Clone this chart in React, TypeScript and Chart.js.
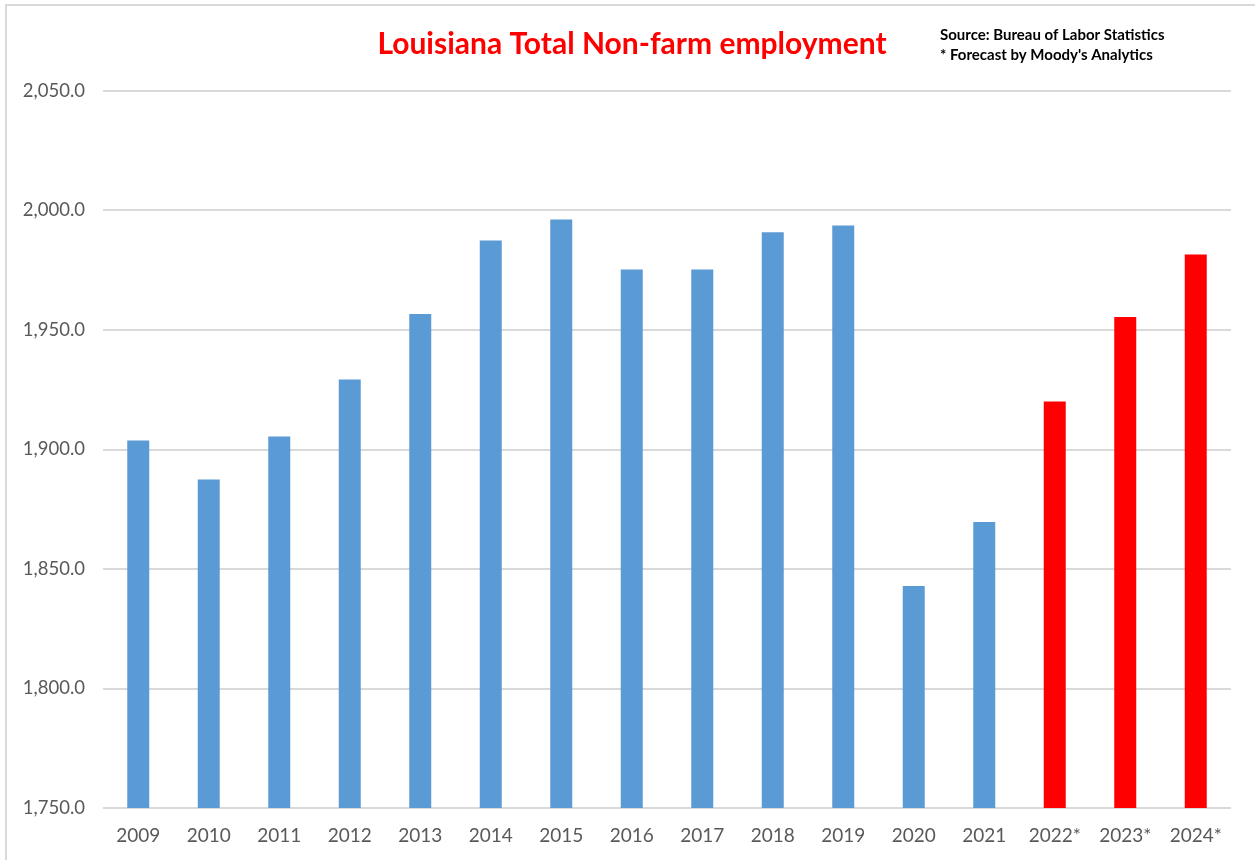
import React, { useEffect, useRef } from "react";
import { Chart, registerables } from "chart.js";

Chart.register(...registerables);

const categories = ["2009", "2010", "2011", "2012", "2013", "2014", "2015", "2016", "2017", "2018", "2019", "2020", "2021", "2022*", "2023*", "2024*"];
const employment = [1903.8, 1887.4, 1905.4, 1929.3, 1956.7, 1987.4, 1996.2, 1975.3, 1975.3, 1990.9, 1993.7, 1842.9, 1869.7, 1920.1, 1955.4, 1981.6];
const isForecast = [false, false, false, false, false, false, false, false, false, false, false, false, false, true, true, true];
const yMin = 1750;
const yMax = 2050;
const yStep = 50;
const titleText = "Louisiana Total Non-farm employment";
const sourceLines = ["Source: Bureau of Labor Statistics", "* Forecast by Moody's Analytics"];

const BLUE = "#5B9BD5";
const RED = "#FF0000";
const FONT = "Lato, 'Open Sans', sans-serif";

const decorPlugin = {
  id: "decor",
  beforeDraw(chart: any) {
    const ctx = chart.ctx;
    ctx.save();
    ctx.fillStyle = "#ffffff";
    ctx.fillRect(0, 0, chart.width, chart.height);
    ctx.strokeStyle = "#d9d9d9";
    ctx.lineWidth = 2;
    ctx.beginPath();
    ctx.moveTo(6, chart.height);
    ctx.lineTo(6, 5);
    ctx.lineTo(chart.width, 5);
    ctx.stroke();
    ctx.restore();
  },
  afterDraw(chart: any) {
    const ctx = chart.ctx;
    ctx.save();
    ctx.fillStyle = RED;
    ctx.font = `bold 30px ${FONT}`;
    ctx.textAlign = "center";
    ctx.textBaseline = "middle";
    ctx.fillText(titleText, 632, 44);
    ctx.fillStyle = "#000000";
    ctx.font = `bold 15px ${FONT}`;
    ctx.textAlign = "left";
    ctx.fillText(sourceLines[0], 940, 35);
    ctx.fillText(sourceLines[1], 940, 55);
    ctx.restore();
  },
};

export default function App() {
  const ref = useRef<HTMLCanvasElement | null>(null);
  useEffect(() => {
    if (!ref.current) return;
    const chart = new Chart(ref.current, {
      type: "bar",
      data: {
        labels: categories,
        datasets: [
          {
            label: "Employment",
            data: employment,
            backgroundColor: isForecast.map((f) => (f ? RED : BLUE)),
            borderWidth: 0,
            barPercentage: 0.312,
            categoryPercentage: 1,
          },
        ],
      },
      options: {
        animation: false,
        responsive: false,
        maintainAspectRatio: false,
        layout: { padding: { top: 91, right: 24, bottom: 0, left: 0 } },
        plugins: { legend: { display: false }, tooltip: { enabled: false }, title: { display: false } },
        scales: {
          x: {
            grid: { display: false, drawTicks: false },
            border: { display: false },
            ticks: { color: "#595959", font: { family: FONT, size: 19 }, padding: 16, maxRotation: 0, autoSkip: false },
            afterFit(scale: any) {
              scale.height = 52;
            },
          },
          y: {
            min: yMin,
            max: yMax,
            grid: { color: "#d9d9d9", lineWidth: 2, drawTicks: false },
            border: { display: false },
            ticks: {
              stepSize: yStep,
              color: "#595959",
              font: { family: FONT, size: 18.5 },
              padding: 18,
              callback: (v: any) => Number(v).toLocaleString("en-US", { minimumFractionDigits: 1, maximumFractionDigits: 1 }),
            },
            afterFit(scale: any) {
              scale.width = 103;
            },
          },
        },
      },
      plugins: [decorPlugin],
    });
    return () => chart.destroy();
  }, []);
  return (
    <div style={{ position: "fixed", left: 0, top: 0, width: 1255, height: 860, background: "#fff" }}>
      <canvas ref={ref} width={1255} height={860} style={{ display: "block", width: 1255, height: 860 }} />
    </div>
  );
}
